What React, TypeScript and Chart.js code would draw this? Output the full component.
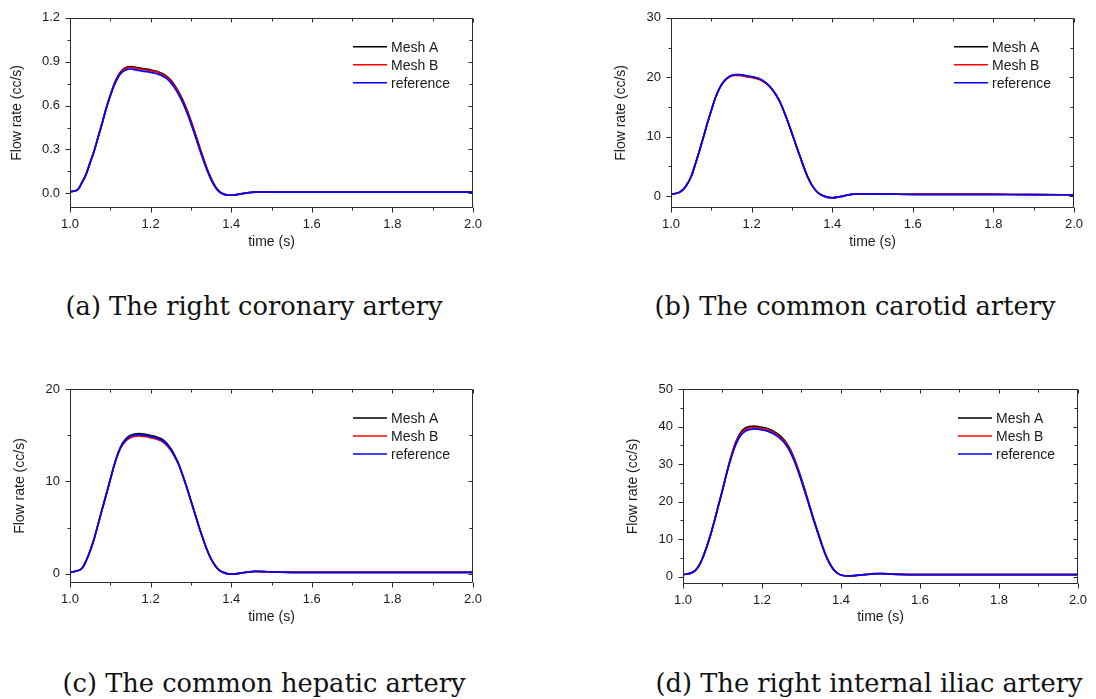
import React, { useEffect, useRef } from "react";
import { Chart, registerables } from "chart.js";

Chart.register(...registerables);

// ---------- data ----------
const TIME = [
  1.0, 1.02, 1.03, 1.04, 1.05, 1.06, 1.07, 1.08, 1.09, 1.1,
  1.11, 1.12, 1.13, 1.14, 1.15, 1.16, 1.17, 1.18, 1.19, 1.2,
  1.21, 1.22, 1.23, 1.24, 1.25, 1.26, 1.27, 1.28, 1.29, 1.3,
  1.31, 1.32, 1.33, 1.34, 1.35, 1.36, 1.37, 1.38, 1.39, 1.4,
  1.42, 1.44, 1.46, 1.48, 1.5, 1.55, 1.6, 1.7, 1.8, 1.9, 2.0,
];

const X_TICKS = [1.0, 1.2, 1.4, 1.6, 1.8, 2.0];
const SERIES_NAMES = ["Mesh A", "Mesh B", "reference"];
const SERIES_COLORS = ["#000000", "#ff0000", "#0000ff"];

// (a) right coronary artery
const A_MESH_A = [
  0.011, 0.028, 0.076, 0.132, 0.212, 0.292, 0.388, 0.484, 0.585, 0.672,
  0.75, 0.808, 0.845, 0.862, 0.866, 0.863, 0.858, 0.853, 0.849, 0.844,
  0.838, 0.829, 0.817, 0.8, 0.774, 0.738, 0.692, 0.637, 0.572, 0.497,
  0.416, 0.33, 0.248, 0.17, 0.104, 0.051, 0.015, -0.003, -0.011, -0.013,
  -0.005, 0.004, 0.009, 0.01, 0.009, 0.008, 0.008, 0.008, 0.008, 0.008, 0.008,
];
const A_MESH_B = [
  0.011, 0.028, 0.076, 0.131, 0.211, 0.291, 0.387, 0.482, 0.583, 0.669,
  0.746, 0.802, 0.839, 0.856, 0.86, 0.857, 0.852, 0.847, 0.843, 0.838,
  0.832, 0.823, 0.811, 0.794, 0.768, 0.732, 0.685, 0.63, 0.565, 0.49,
  0.409, 0.323, 0.242, 0.165, 0.1, 0.048, 0.013, -0.004, -0.011, -0.013,
  -0.005, 0.004, 0.009, 0.01, 0.009, 0.008, 0.008, 0.008, 0.008, 0.008, 0.008,
];
const A_REF = [
  0.011, 0.028, 0.075, 0.13, 0.21, 0.29, 0.385, 0.48, 0.58, 0.665,
  0.74, 0.795, 0.83, 0.846, 0.85, 0.846, 0.841, 0.836, 0.832, 0.827,
  0.821, 0.813, 0.801, 0.784, 0.757, 0.72, 0.673, 0.618, 0.553, 0.478,
  0.398, 0.313, 0.233, 0.158, 0.094, 0.044, 0.011, -0.005, -0.012, -0.013,
  -0.005, 0.004, 0.009, 0.01, 0.009, 0.008, 0.008, 0.008, 0.008, 0.008, 0.008,
];
const A_Y_TICKS = [0, 0.3, 0.6, 0.9, 1.2];

// (b) common carotid artery
const B_MESH_A = [
  0.3, 0.6, 1.1, 2.0, 3.3, 5.3, 7.5, 9.8, 12.2, 14.4,
  16.5, 18.1, 19.2, 19.9, 20.3, 20.4, 20.4, 20.3, 20.15, 20.05,
  19.9, 19.7, 19.3, 18.8, 18.05, 17.1, 15.9, 14.3, 12.5, 10.6,
  8.6, 6.7, 4.8, 3.1, 1.8, 0.9, 0.3, 0.0, -0.2, -0.28,
  -0.1, 0.2, 0.38, 0.38, 0.35, 0.32, 0.3, 0.3, 0.28, 0.26, 0.22,
];
const B_MESH_B = [
  0.3, 0.6, 1.1, 2.0, 3.3, 5.3, 7.5, 9.8, 12.2, 14.4,
  16.5, 18.1, 19.15, 19.8, 20.2, 20.3, 20.3, 20.2, 20.05, 19.95,
  19.8, 19.6, 19.25, 18.75, 18.0, 17.1, 15.9, 14.3, 12.5, 10.6,
  8.6, 6.7, 4.8, 3.1, 1.8, 0.9, 0.3, 0.0, -0.2, -0.28,
  -0.1, 0.2, 0.38, 0.38, 0.35, 0.32, 0.3, 0.3, 0.28, 0.26, 0.22,
];
const B_REF = [
  0.3, 0.6, 1.1, 2.0, 3.3, 5.3, 7.5, 9.8, 12.2, 14.4,
  16.5, 18.1, 19.2, 19.9, 20.3, 20.45, 20.45, 20.35, 20.2, 20.1,
  19.95, 19.75, 19.35, 18.8, 18.05, 17.1, 15.9, 14.3, 12.5, 10.6,
  8.6, 6.7, 4.8, 3.1, 1.8, 0.9, 0.3, 0.0, -0.2, -0.28,
  -0.1, 0.2, 0.38, 0.38, 0.35, 0.32, 0.3, 0.3, 0.28, 0.26, 0.22,
];
const B_Y_TICKS = [0, 10, 20, 30];

// (c) common hepatic artery
const C_MESH_A = [
  0.15, 0.35, 0.6, 1.4, 2.5, 3.8, 5.4, 7.0, 8.6, 10.2,
  11.8, 13.15, 14.1, 14.67, 14.98, 15.13, 15.17, 15.12, 15.07, 14.97,
  14.87, 14.72, 14.52, 14.12, 13.56, 12.8, 11.85, 10.65, 9.33, 7.92,
  6.52, 5.1, 3.8, 2.6, 1.6, 0.9, 0.4, 0.15, 0.02, -0.04,
  0.05, 0.18, 0.25, 0.24, 0.2, 0.16, 0.15, 0.15, 0.15, 0.15, 0.15,
];
const C_MESH_B = [
  0.15, 0.35, 0.6, 1.4, 2.5, 3.8, 5.4, 7.0, 8.6, 10.2,
  11.8, 13.05, 13.92, 14.45, 14.73, 14.88, 14.93, 14.88, 14.83, 14.73,
  14.63, 14.48, 14.28, 13.9, 13.38, 12.65, 11.77, 10.58, 9.28, 7.89,
  6.49, 5.1, 3.8, 2.6, 1.6, 0.9, 0.4, 0.15, 0.02, -0.04,
  0.05, 0.18, 0.25, 0.24, 0.2, 0.16, 0.15, 0.15, 0.15, 0.15, 0.15,
];
const C_REF = [
  0.15, 0.35, 0.6, 1.4, 2.5, 3.8, 5.4, 7.0, 8.6, 10.2,
  11.8, 13.1, 14.0, 14.55, 14.85, 15.0, 15.05, 15.0, 14.95, 14.85,
  14.75, 14.6, 14.4, 14.0, 13.45, 12.7, 11.8, 10.6, 9.3, 7.9,
  6.5, 5.1, 3.8, 2.6, 1.6, 0.9, 0.4, 0.15, 0.02, -0.04,
  0.05, 0.18, 0.25, 0.24, 0.2, 0.16, 0.15, 0.15, 0.15, 0.15, 0.15,
];
const C_Y_TICKS = [0, 10, 20];

// (d) right internal iliac artery
const D_MESH_A = [
  0.5, 0.9, 1.5, 2.8, 5.0, 7.9, 11.2, 15.0, 19.1, 23.1,
  27.4, 31.4, 34.8, 37.3, 38.9, 39.7, 40.0, 40.1, 40.0, 39.8,
  39.6, 39.2, 38.7, 38.0, 37.1, 35.9, 34.2, 31.9, 29.1, 26.0,
  22.6, 19.1, 15.6, 12.3, 9.1, 6.1, 3.8, 2.05, 0.97, 0.4,
  0.15, 0.3, 0.5, 0.72, 0.77, 0.55, 0.5, 0.5, 0.5, 0.5, 0.5,
];
const D_MESH_B = [
  0.5, 0.9, 1.5, 2.8, 5.0, 7.9, 11.2, 15.0, 19.05, 23.05,
  27.3, 31.2, 34.5, 36.95, 38.5, 39.3, 39.6, 39.7, 39.65, 39.45,
  39.25, 38.85, 38.35, 37.65, 36.75, 35.55, 33.85, 31.55, 28.8, 25.7,
  22.35, 18.9, 15.45, 12.2, 9.0, 6.05, 3.75, 2.02, 0.96, 0.4,
  0.15, 0.3, 0.52, 0.75, 0.8, 0.56, 0.5, 0.5, 0.5, 0.5, 0.5,
];
const D_REF = [
  0.5, 0.9, 1.5, 2.8, 5.0, 7.9, 11.2, 15.0, 19.0, 23.0,
  27.2, 31.0, 34.2, 36.6, 38.1, 38.9, 39.2, 39.35, 39.3, 39.1,
  38.9, 38.5, 38.0, 37.3, 36.4, 35.2, 33.5, 31.2, 28.5, 25.4,
  22.1, 18.7, 15.3, 12.1, 8.9, 6.0, 3.7, 2.0, 0.95, 0.4,
  0.15, 0.3, 0.5, 0.7, 0.75, 0.55, 0.5, 0.5, 0.5, 0.5, 0.5,
];
const D_Y_TICKS = [0, 10, 20, 30, 40, 50];

// ---------- layout / style ----------
const SANS = "'Liberation Sans', Arial, sans-serif";
const SERIF = "'DejaVu Serif', serif";
const TEXT_COLOR = "#1a1a1a";
const Y_AXIS_W = 70;

type Panel = {
  caption: string;
  series: number[][];
  yMin: number;
  yMax: number;
  yTicks: number[];
  yDecimals: number;
  box: { left: number; top: number; w: number; h: number };
  area: { left: number; right: number; top: number; bottom: number };
  yTitleX: number;
  xTitleY: number;
  capX: number;
  capBase: number;
};

const PANELS: Panel[] = [
  {
    caption: "(a) The right coronary artery",
    series: [A_MESH_A, A_MESH_B, A_REF],
    yMin: -0.1, yMax: 1.2, yTicks: A_Y_TICKS, yDecimals: 1,
    box: { left: 0, top: 0, w: 548, h: 260 },
    area: { left: 70, right: 473, top: 14, bottom: 208 },
    yTitleX: 17.5, xTitleY: 242, capX: 254, capBase: 316,
  },
  {
    caption: "(b) The common carotid artery",
    series: [B_MESH_A, B_MESH_B, B_REF],
    yMin: -2, yMax: 30, yTicks: B_Y_TICKS, yDecimals: 0,
    box: { left: 548, top: 0, w: 548, h: 260 },
    area: { left: 671, right: 1074, top: 15, bottom: 208 },
    yTitleX: 621.5, xTitleY: 242, capX: 855, capBase: 316,
  },
  {
    caption: "(c) The common hepatic artery",
    series: [C_MESH_A, C_MESH_B, C_REF],
    yMin: -1, yMax: 20, yTicks: C_Y_TICKS, yDecimals: 0,
    box: { left: 0, top: 370, w: 548, h: 260 },
    area: { left: 70, right: 473, top: 389, bottom: 583 },
    yTitleX: 20, xTitleY: 617, capX: 264, capBase: 693,
  },
  {
    caption: "(d) The right internal iliac artery",
    series: [D_MESH_A, D_MESH_B, D_REF],
    yMin: -2, yMax: 50, yTicks: D_Y_TICKS, yDecimals: 0,
    box: { left: 548, top: 370, w: 548, h: 260 },
    area: { left: 683, right: 1086, top: 389, bottom: 584 },
    yTitleX: 633, xTitleY: 617, capX: 869, capBase: 693,
  },
];

function midpoints(arr: number[]): number[] {
  const out: number[] = [];
  for (let i = 0; i < arr.length - 1; i++) out.push((arr[i] + arr[i + 1]) / 2);
  return out;
}

const framePlugin = {
  id: "originFrame",
  afterDatasetsDraw(chart: any) {
    const { ctx, chartArea: a, scales } = chart;
    const x = scales.x;
    const y = scales.y;
    const L = Math.round(a.left) + 0.5;
    const R = Math.round(a.right) - 0.5;
    const T = Math.round(a.top) + 0.5;
    const B = Math.round(a.bottom) - 0.5;
    ctx.save();
    ctx.strokeStyle = "#2a2a2a";
    ctx.lineWidth = 1;
    ctx.beginPath();
    ctx.rect(L, T, R - L, B - T);
    const yTicks = (chart.options as any)._yTicks as number[];
    const drawX = (vals: number[], outLen: number, inLen: number) => {
      vals.forEach((v) => {
        const px = Math.round(x.getPixelForValue(v)) + 0.5;
        ctx.moveTo(px, B);
        ctx.lineTo(px, B + outLen);
        ctx.moveTo(px, T);
        ctx.lineTo(px, T + inLen);
      });
    };
    const drawY = (vals: number[], outLen: number, inLen: number) => {
      vals.forEach((v) => {
        const py = Math.round(y.getPixelForValue(v)) + 0.5;
        if (py < T - 1 || py > B + 1) return;
        ctx.moveTo(L, py);
        ctx.lineTo(L - outLen, py);
        ctx.moveTo(R, py);
        ctx.lineTo(R - inLen, py);
      });
    };
    drawX(X_TICKS, 5, 4);
    drawX(midpoints(X_TICKS), 3, 3);
    drawY(yTicks, 5, 4);
    drawY(midpoints(yTicks), 3, 3);
    ctx.stroke();
    ctx.restore();
  },
  afterDraw(chart: any) {
    const { ctx, chartArea: a } = chart;
    ctx.save();
    ctx.font = `14px ${SANS}`;
    ctx.textBaseline = "middle";
    ctx.textAlign = "left";
    SERIES_NAMES.forEach((name, i) => {
      const yy = a.top + 29 + 18 * i;
      ctx.strokeStyle = SERIES_COLORS[i];
      ctx.lineWidth = 1.6;
      ctx.beginPath();
      ctx.moveTo(a.right - 120, yy);
      ctx.lineTo(a.right - 86, yy);
      ctx.stroke();
      ctx.fillStyle = TEXT_COLOR;
      ctx.fillText(name, a.right - 82, yy + 1);
    });
    ctx.restore();
  },
};

function PanelChart({ p }: { p: Panel }) {
  const ref = useRef<HTMLCanvasElement | null>(null);
  useEffect(() => {
    const canvas = ref.current;
    if (!canvas) return;
    const padLeft = p.area.left - p.box.left - Y_AXIS_W;
    const padRight = p.box.left + p.box.w - p.area.right;
    const padTop = p.area.top - p.box.top;
    const xAxisH = p.box.top + p.box.h - p.area.bottom;
    const titleFontH = 14 * 1.2;
    const yTitlePad = p.yTitleX - p.box.left - padLeft - titleFontH / 2;
    const xTitlePad = p.box.top + p.box.h - p.xTitleY - titleFontH / 2;

    const datasets = p.series.map((vals, i) => ({
      label: SERIES_NAMES[i],
      data: TIME.map((t, k) => ({ x: t, y: vals[k] })),
      borderColor: SERIES_COLORS[i],
      backgroundColor: SERIES_COLORS[i],
      borderWidth: 1.7,
      pointRadius: 0,
      fill: false,
      cubicInterpolationMode: "monotone" as const,
      order: 2 - i,
    }));

    const chart = new Chart(canvas, {
      type: "line",
      data: { datasets },
      options: {
        _yTicks: p.yTicks,
        responsive: false,
        animation: false,
        maintainAspectRatio: false,
        layout: { padding: { left: padLeft, right: padRight, top: padTop, bottom: 0 } },
        plugins: { legend: { display: false }, tooltip: { enabled: false } },
        scales: {
          x: {
            type: "linear",
            min: 1,
            max: 2,
            grid: { display: false, drawTicks: false },
            border: { display: false },
            afterBuildTicks: (s: any) => {
              s.ticks = X_TICKS.map((v) => ({ value: v }));
            },
            afterFit: (s: any) => {
              s.height = xAxisH;
            },
            ticks: {
              autoSkip: false,
              maxRotation: 0,
              padding: 9,
              color: TEXT_COLOR,
              font: { family: SANS, size: 13 },
              callback: (v: any) => Number(v).toFixed(1),
            },
            title: {
              display: true,
              text: "time (s)",
              color: TEXT_COLOR,
              font: { family: SANS, size: 14 },
              padding: { top: 0, bottom: xTitlePad },
            },
          },
          y: {
            type: "linear",
            min: p.yMin,
            max: p.yMax,
            grid: { display: false, drawTicks: false },
            border: { display: false },
            afterBuildTicks: (s: any) => {
              s.ticks = p.yTicks.map((v) => ({ value: v }));
            },
            afterFit: (s: any) => {
              s.width = Y_AXIS_W;
            },
            ticks: {
              autoSkip: false,
              padding: 10,
              color: TEXT_COLOR,
              font: { family: SANS, size: 13 },
              callback: (v: any) => Number(v).toFixed(p.yDecimals),
            },
            title: {
              display: true,
              text: "Flow rate (cc/s)",
              color: TEXT_COLOR,
              font: { family: SANS, size: 14 },
              padding: { top: yTitlePad, bottom: 0 },
            },
          },
        },
      } as any,
      plugins: [framePlugin],
    });
    return () => chart.destroy();
  }, [p]);

  return (
    <canvas
      ref={ref}
      width={p.box.w}
      height={p.box.h}
      style={{
        position: "absolute",
        left: p.box.left,
        top: p.box.top,
        width: p.box.w,
        height: p.box.h,
      }}
    />
  );
}

export default function App() {
  const capSize = 25.7;
  return (
    <div
      style={{
        position: "absolute",
        left: 0,
        top: 0,
        width: 1096,
        height: 699,
        background: "#ffffff",
        overflow: "hidden",
      }}
    >
      {PANELS.map((p, i) => (
        <PanelChart key={i} p={p} />
      ))}
      {PANELS.map((p, i) => (
        <div
          key={"c" + i}
          style={{
            position: "absolute",
            left: p.capX - 300,
            width: 600,
            top: p.capBase - capSize * 0.846,
            textAlign: "center",
            fontFamily: SERIF,
            fontSize: capSize,
            lineHeight: `${capSize}px`,
            whiteSpace: "nowrap",
            color: "#111",
          }}
        >
          {p.caption}
        </div>
      ))}
    </div>
  );
}
